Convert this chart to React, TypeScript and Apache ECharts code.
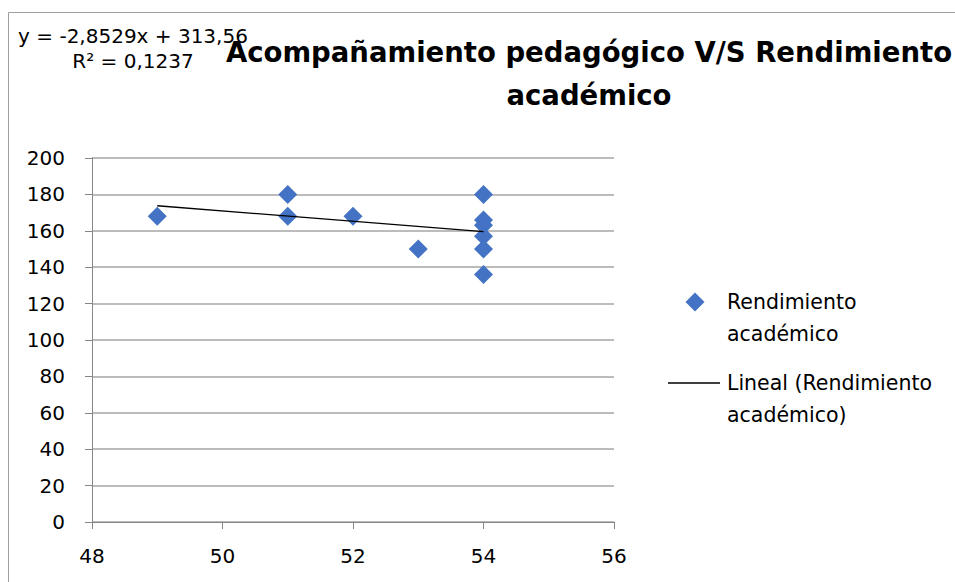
import React, { useEffect, useRef } from "react";
import * as echarts from "echarts";

const titleLines = ["Acompañamiento pedagógico V/S Rendimiento", "académico"];
const seriesName = "Rendimiento académico";
const legendLines = ["Rendimiento", "académico"];
const trendLegendLines = ["Lineal (Rendimiento", "académico)"];
const equationLines = ["y = -2,8529x + 313,56", "R² = 0,1237"];

// Acompañamiento pedagógico (x) vs Rendimiento académico (y)
const acompanamiento = [49, 51, 51, 52, 53, 54, 54, 54, 54, 54, 54];
const rendimiento = [168, 180, 168, 168, 150, 180, 166, 163, 157, 150, 136];

// Linear trendline coefficients as printed on the chart
const trendSlope = -2.8529;
const trendIntercept = 313.56;
const trendRange = [49, 54];

const xScale = [48, 56, 2]; // min, max, interval
const yScale = [0, 200, 20];

const FONT = "'DejaVu Sans', 'Liberation Sans', sans-serif";

export default function App() {
  const ref = useRef<HTMLDivElement>(null);

  useEffect(() => {
    document.body.style.margin = "0";
    if (!ref.current) return;
    const chart = echarts.init(ref.current, null, { renderer: "svg" });

    const points = acompanamiento.map((x, i) => [x, rendimiento[i]]);
    const trend = trendRange.map((x) => [x, trendSlope * x + trendIntercept]);

    chart.setOption({
      animation: false,
      backgroundColor: "#ffffff",
      title: {
        text: titleLines.join("\n"),
        left: 589,
        top: 30,
        textAlign: "center",
        padding: 0,
        textStyle: {
          fontFamily: FONT,
          fontWeight: "bold",
          fontSize: 27.5,
          lineHeight: 43,
          color: "#000000",
        },
      },
      grid: { left: 92, top: 158, width: 522, height: 364 },
      xAxis: {
        type: "value",
        min: xScale[0],
        max: xScale[1],
        interval: xScale[2],
        axisLine: { show: true, lineStyle: { color: "#868686", width: 1 } },
        axisTick: { show: true, length: 7, lineStyle: { color: "#868686" } },
        splitLine: { show: false },
        axisLabel: { fontFamily: FONT, fontSize: 20, color: "#000", margin: 24 },
      },
      yAxis: {
        type: "value",
        min: yScale[0],
        max: yScale[1],
        interval: yScale[2],
        axisLine: { show: true, lineStyle: { color: "#868686", width: 1 } },
        axisTick: { show: true, length: 7, lineStyle: { color: "#868686" } },
        splitLine: { show: true, lineStyle: { color: "#a6a6a6", width: 1.5 } },
        axisLabel: { fontFamily: FONT, fontSize: 20, color: "#000", margin: 27 },
      },
      series: [
        {
          name: seriesName,
          type: "scatter",
          data: points,
          symbol: "diamond",
          symbolSize: 19,
          itemStyle: { color: "#4472C4", opacity: 1 },
          z: 2,
        },
        {
          name: "Lineal (" + seriesName + ")",
          type: "line",
          data: trend,
          showSymbol: false,
          symbol: "none",
          lineStyle: { color: "#000000", width: 1.3 },
          z: 3,
        },
      ],
      graphic: [
        {
          type: "rect",
          shape: { x: 8.5, y: 12.5, width: 1200, height: 1000 },
          style: { fill: "none", stroke: "#a0a0a0", lineWidth: 1 },
          silent: true,
          z: -10,
        },
        {
          type: "text",
          x: 133,
          y: 48,
          z: 10,
          style: {
            text: equationLines.join("\n"),
            font: `20px ${FONT}`,
            fill: "#000",
            align: "center",
            verticalAlign: "middle",
            lineHeight: 25,
          },
        },
        {
          type: "polygon",
          shape: { points: [[695, 292.5], [704.5, 302], [695, 311.5], [685.5, 302]] },
          style: { fill: "#4472C4" },
        },
        {
          type: "text",
          x: 727,
          y: 318,
          style: {
            text: legendLines.join("\n"),
            font: `20.5px ${FONT}`,
            fill: "#000",
            align: "left",
            verticalAlign: "middle",
            lineHeight: 32,
          },
        },
        {
          type: "line",
          shape: { x1: 668, y1: 383, x2: 720, y2: 383 },
          style: { stroke: "#000", lineWidth: 1.3 },
        },
        {
          type: "text",
          x: 727,
          y: 399,
          style: {
            text: trendLegendLines.join("\n"),
            font: `20.5px ${FONT}`,
            fill: "#000",
            align: "left",
            verticalAlign: "middle",
            lineHeight: 32,
          },
        },
      ],
    });

    return () => chart.dispose();
  }, []);

  return <div ref={ref} style={{ width: 955, height: 582 }} />;
}
